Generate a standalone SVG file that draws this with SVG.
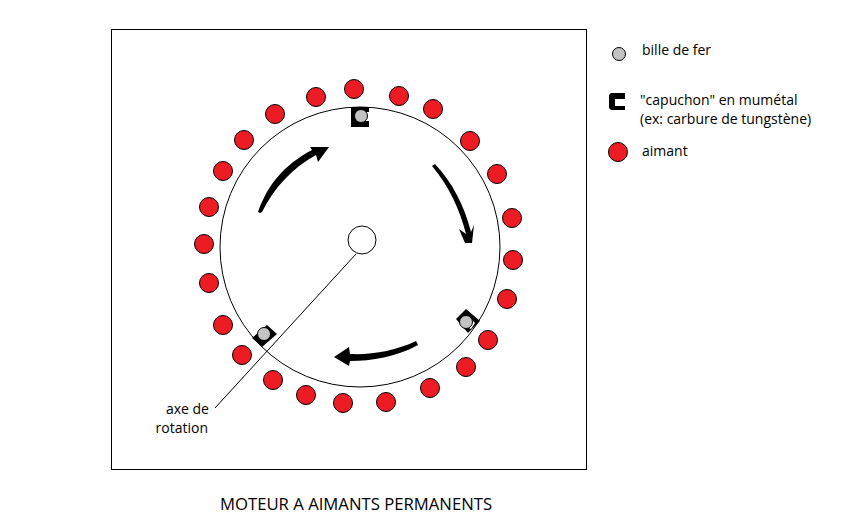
<svg xmlns="http://www.w3.org/2000/svg" width="849" height="530" viewBox="0 0 849 530">
<style>
text{font-family:"Open Sans","Noto Sans","Liberation Sans",sans-serif;font-size:14px;fill:#000}
.m{fill:#ed1c24;stroke:#000;stroke-width:1}
.b{fill:#c3c3c3;stroke:#000;stroke-width:1}
.t{fill:none;stroke:#000;stroke-width:1}
.h{fill:#000;stroke:none}
</style>
<rect width="849" height="530" fill="#fff"/>
<g id="frame"><rect class="t" x="111.500" y="29.500" width="475" height="440"/></g>
<g id="rotor"><circle class="t" cx="360" cy="247" r="140" fill="#fff"/></g>
<g id="connectors">
<line class="t" x1="356" y1="254" x2="215" y2="408"/>
<path class="h" d="M258 212C268 184 284 165 312 150L310 147L329 147L318 162L316 155C292 168 274 188 262 212L260 213Z"/>
<path class="h" d="M432 166L435 164C452 182 464 205 471 232L474 225L472 243L465 243L459 229L466 234C460 210 449 186 432 166Z"/>
<path class="h" d="M416 341L418 345C396 357 372 361 350 361L349 366L334 357L349 347L350 354C372 355 395 351 416 341Z"/>
</g>
<g id="hub"><circle class="t" cx="362" cy="240" r="14" fill="#fff"/></g>
<g id="magnets">
<circle class="m" cx="354" cy="89" r="9.500"/><circle class="m" cx="399" cy="96" r="9.500"/><circle class="m" cx="433" cy="109" r="9.500"/><circle class="m" cx="470" cy="141" r="9.500"/><circle class="m" cx="497" cy="174" r="9.500"/><circle class="m" cx="512" cy="218" r="9.500"/><circle class="m" cx="513" cy="260" r="9.500"/><circle class="m" cx="507" cy="299" r="9.500"/><circle class="m" cx="488" cy="340" r="9.500"/><circle class="m" cx="466" cy="367" r="9.500"/><circle class="m" cx="430" cy="388" r="9.500"/><circle class="m" cx="386" cy="402" r="9.500"/><circle class="m" cx="343" cy="403" r="9.500"/><circle class="m" cx="306" cy="395" r="9.500"/><circle class="m" cx="273" cy="380" r="9.500"/><circle class="m" cx="242" cy="355" r="9.500"/><circle class="m" cx="223" cy="325" r="9.500"/><circle class="m" cx="209" cy="283" r="9.500"/><circle class="m" cx="204" cy="244" r="9.500"/><circle class="m" cx="209" cy="207" r="9.500"/><circle class="m" cx="223" cy="171" r="9.500"/><circle class="m" cx="244" cy="140" r="9.500"/><circle class="m" cx="275" cy="114" r="9.500"/><circle class="m" cx="316" cy="97" r="9.500"/>
</g>
<g id="cap-top"><path class="h" d="M369 107H351V127H369V121H356V112H369Z"/><circle class="b" cx="361" cy="116" r="6.500"/></g>
<g id="cap-right"><path class="h" d="M456 319L466 309L480 321L468 333Z"/><path d="M471 329L475 323L470 318L462 325Z" fill="#fff"/><circle class="b" cx="466" cy="322" r="6.500"/></g>
<g id="cap-left"><path class="h" d="M252 338L267 325L277 334L262 347Z"/><circle class="b" cx="264" cy="334" r="6.500"/></g>
<g id="legend-bille"><circle class="b" cx="619" cy="54" r="6.500"/><text x="642" y="55">bille de fer</text></g>
<g id="legend-capuchon"><path class="h" d="M625 93H611L609 95V108L611 110H625V106H615V99H625Z"/><text x="640" y="105">"capuchon" en mumétal</text><text x="640" y="124">(ex: carbure de tungstène)</text></g>
<g id="legend-aimant"><circle class="m" cx="618" cy="152" r="9.500"/><text x="642" y="156">aimant</text></g>
<g id="labels">
<text x="209" y="414" text-anchor="end">axe de</text><text x="208" y="433" text-anchor="end">rotation</text>
<text x="220" y="510" style="font-size:16.700px">MOTEUR A AIMANTS PERMANENTS</text>
</g>
</svg>
